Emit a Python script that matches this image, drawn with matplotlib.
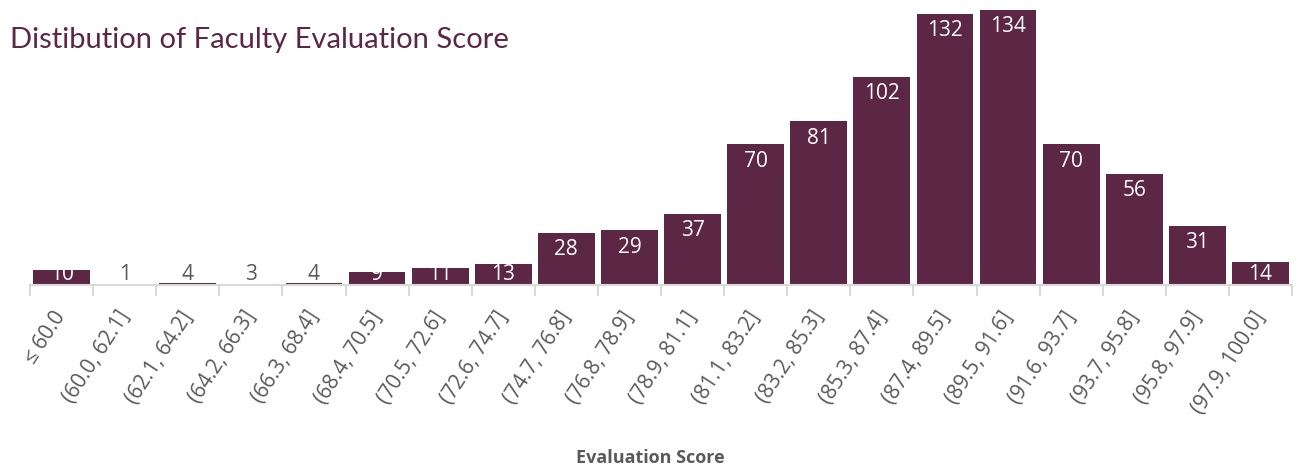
import matplotlib
matplotlib.use("Agg")
import matplotlib.pyplot as plt
import numpy as np

# bins and counts
bins = ['≤ 60.0', '(60.0, 62.1]', '(62.1, 64.2]', '(64.2, 66.3]', '(66.3, 68.4]',
        '(68.4, 70.5]', '(70.5, 72.6]', '(72.6, 74.7]', '(74.7, 76.8]', '(76.8, 78.9]',
        '(78.9, 81.1]', '(81.1, 83.2]', '(83.2, 85.3]', '(85.3, 87.4]', '(87.4, 89.5]',
        '(89.5, 91.6]', '(91.6, 93.7]', '(93.7, 95.8]', '(95.8, 97.9]', '(97.9, 100.0]']
counts = [10, 1, 4, 3, 4, 9, 11, 13, 28, 29, 37, 70, 81, 102, 132, 134, 70, 56, 31, 14]

bar_color = '#5C2645'
grid_gray = '#D9D9D9'
text_gray = '#595959'

W, H = 1303, 471
fig = plt.figure(figsize=(W / 100, H / 100), dpi=100)
ax = fig.add_axes([30 / W, (H - 285) / H, 1262 / W, 285 / H])

x = np.arange(len(counts))
ymin = 3.0
ax.bar(x, np.array(counts) - ymin, bottom=ymin, width=0.9, color=bar_color, zorder=2)
ax.set_xlim(-0.5, len(counts) - 0.5)
ax.set_ylim(ymin, ymin + 285 / 2.1)

# value labels, inside the top of each bar
for xi, v in zip(x, counts):
    y = max(v - 8.0, ymin + 5.0)
    col = 'white' if v >= 9 else text_gray
    ax.text(xi, y, str(v), ha='center', va='center', color=col,
            fontsize=15, family='Open Sans', zorder=3)

for s in ['top', 'right', 'left']:
    ax.spines[s].set_visible(False)
ax.spines['bottom'].set_color(grid_gray)
ax.spines['bottom'].set_linewidth(1.5)
ax.spines['bottom'].set_zorder(3)
ax.set_yticks([])

# boundary tick marks
ax.set_xticks(np.arange(-0.5, len(counts)), minor=True)
ax.tick_params(axis='x', which='minor', length=8, width=1.5, color=grid_gray)
ax.set_xticks(x)
ax.set_xticklabels(bins, rotation=57, ha='right', va='center', rotation_mode='anchor',
                   fontsize=15, color=text_gray, family='Open Sans')
ax.tick_params(axis='x', which='major', length=0, pad=20)

ax.set_xlabel('Evaluation Score', fontsize=13, fontweight='bold', color=text_gray,
              family='Open Sans')
ax.xaxis.label.set_va('center')
ax.xaxis.set_label_coords((650 - 30) / 1262, -(458 - 285) / 285)

fig.text(10 / W, 1 - 40 / H, 'Distibution of Faculty Evaluation Score', fontsize=21,
         color=bar_color, family='Lato', va='center', ha='left')

fig.savefig('out.png', dpi=100)
